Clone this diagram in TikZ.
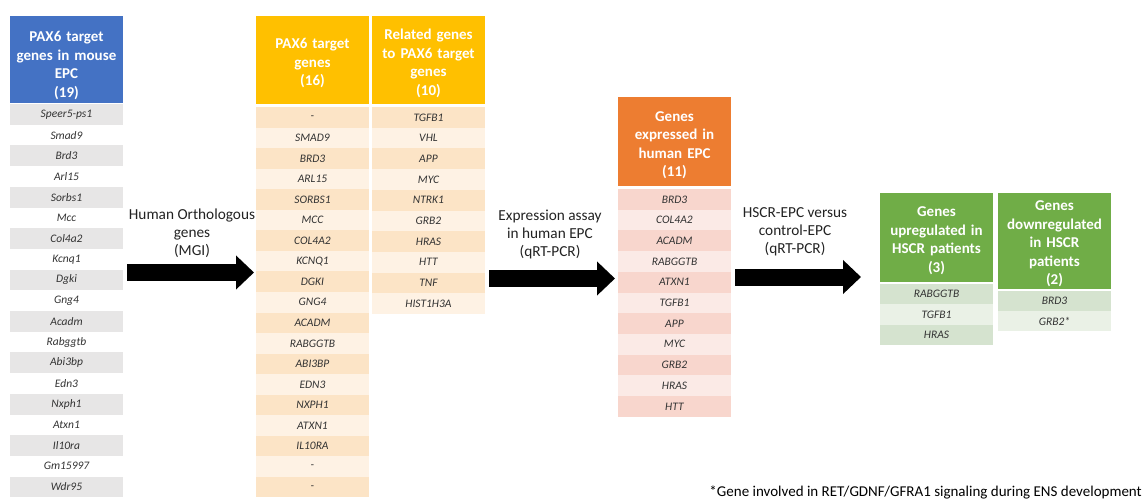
\documentclass[tikz,border=0pt]{standalone}
\usepackage{fontspec}
\setmainfont{Carlito}
\usetikzlibrary{arrows.meta}
\definecolor{cblue}{HTML}{4472C4}
\definecolor{cyellow}{HTML}{FFC000}
\definecolor{corange}{HTML}{ED7D31}
\definecolor{cgreen}{HTML}{70AD47}
\definecolor{graydk}{HTML}{E7E6E6}
\definecolor{graylt}{HTML}{FFFFFF}
\definecolor{peachdk}{HTML}{FCE4C6}
\definecolor{peachlt}{HTML}{FEF2E4}
\definecolor{pinkdk}{HTML}{F8D6CD}
\definecolor{pinklt}{HTML}{FBEAE6}
\definecolor{greendk}{HTML}{D5E3CF}
\definecolor{greenlt}{HTML}{EAF1E6}
\definecolor{genetext}{HTML}{333333}
\definecolor{lbltext}{HTML}{222222}
\newcommand{\rowh}{20.6}
\newcommand{\rgap}{3}
\newcommand{\hshift}{3.5}
\newcommand{\genecol}[9]{%
  \node[hdrbox, fill=#5, minimum height=#4pt] (#1h) at ({#2+56.5},{#3+#4/2}) {};
  \node[hdr] (#1t) at ([yshift=-\hshift pt]#1h.center) {#8};
  \foreach \g [count=\i] in {#9} {
    \pgfmathsetmacro\yy{#3+#4+\rgap+(\i-0.5)*\rowh}
    \ifodd\i\def\rc{#6}\else\def\rc{#7}\fi
    \node[gene, fill=\rc] (#1r\i) at ({#2+56.5},\yy) {\g};
  }%
}
\begin{document}
\begin{tikzpicture}[x=1pt,y=-1pt,
  hdrbox/.style={draw=none, inner sep=0pt, minimum width=113pt},
  hdr/.style={draw=none, inner sep=0pt, text width=107pt, align=center,
    text=white, font=\fontsize{15}{18.5}\selectfont\bfseries},
  gene/.style={draw=none, inner sep=0pt, minimum width=113pt, minimum height=\rowh pt,
    text=genetext, font=\fontsize{11.5}{13}\selectfont\itshape},
  lbl/.style={align=center, inner sep=0pt, text=lbltext, font=\fontsize{15.3}{18}\selectfont},
  bigarrow/.style={line width=17pt, -{Triangle[length=18pt,width=33pt]}}]
\useasboundingbox (0,0) rectangle (1147,500);

% column 1: mouse EPC
\renewcommand{\rowh}{20.7}\renewcommand{\rgap}{1}\renewcommand{\hshift}{6}
\genecol{c1}{10}{16}{87}{cblue}{graydk}{graylt}{PAX6 target\\genes in mouse\\EPC\\(19)}%
{Speer5-ps1,Smad9,Brd3,Arl15,Sorbs1,Mcc,Col4a2,Kcnq1,Dgki,Gng4,Acadm,Rabggtb,Abi3bp,Edn3,Nxph1,Atxn1,Il10ra,Gm15997,Wdr95}

% column 2: PAX6 target genes
\renewcommand{\rowh}{20.55}\renewcommand{\rgap}{3}\renewcommand{\hshift}{3.5}
\genecol{c2}{256}{16}{88}{cyellow}{peachdk}{peachlt}{PAX6 target\\genes\\(16)}%
{-,SMAD9,BRD3,ARL15,SORBS1,MCC,COL4A2,KCNQ1,DGKI,GNG4,ACADM,RABGGTB,ABI3BP,EDN3,NXPH1,ATXN1,IL10RA,-,-}

% column 3: related genes
\renewcommand{\rowh}{20.7}
\genecol{c3}{372}{16}{88}{cyellow}{peachdk}{peachlt}{Related genes\\to PAX6 target\\genes\\(10)}%
{TGFB1,VHL,APP,MYC,NTRK1,GRB2,HRAS,HTT,TNF,HIST1H3A}

% column 4: expressed in human EPC
\genecol{c4}{618}{97}{89}{corange}{pinkdk}{pinklt}{Genes\\expressed in\\human EPC\\(11)}%
{BRD3,COL4A2,ACADM,RABGGTB,ATXN1,TGFB1,APP,MYC,GRB2,HRAS,HTT}

% column 5: upregulated
\renewcommand{\rowh}{20.4}\renewcommand{\rgap}{2}\renewcommand{\hshift}{3}
\genecol{c5}{880}{193}{89}{cgreen}{greendk}{greenlt}{Genes\\upregulated in\\HSCR patients\\(3)}%
{RABGGTB,TGFB1,HRAS}

% column 6: downregulated
\renewcommand{\rowh}{20.2}
\genecol{c6}{998}{193}{96}{cgreen}{greendk}{greenlt}{Genes\\downregulated\\in HSCR\\patients\\(2)}%
{BRD3,GRB2*}

% arrows
\coordinate (a1s) at (127,272.5);
\coordinate (a1e) at (254,272.5);
\coordinate (a2s) at (489,278.5);
\coordinate (a2e) at (615,278.5);
\coordinate (a3s) at (735,277);
\coordinate (a3e) at (861,277);
\draw[bigarrow] (a1s) -- (a1e);
\draw[bigarrow] (a2s) -- (a2e);
\draw[bigarrow] (a3s) -- (a3e);

% arrow labels
\node[lbl] (l1) at (192,233) {Human Orthologous\\genes\\(MGI)};
\node[lbl] (l2) at (550,234) {Expression assay\\in human EPC\\(qRT-PCR)};
\node[lbl] (l3) at (795,232) {HSCR-EPC versus\\control-EPC\\(qRT-PCR)};

% footnote
\node[anchor=east, inner sep=0pt, text=black, font=\fontsize{15}{18}\selectfont] (fn) at (1142,492)
  {*Gene involved in RET/GDNF/GFRA1 signaling during ENS development};
\end{tikzpicture}
\end{document}
